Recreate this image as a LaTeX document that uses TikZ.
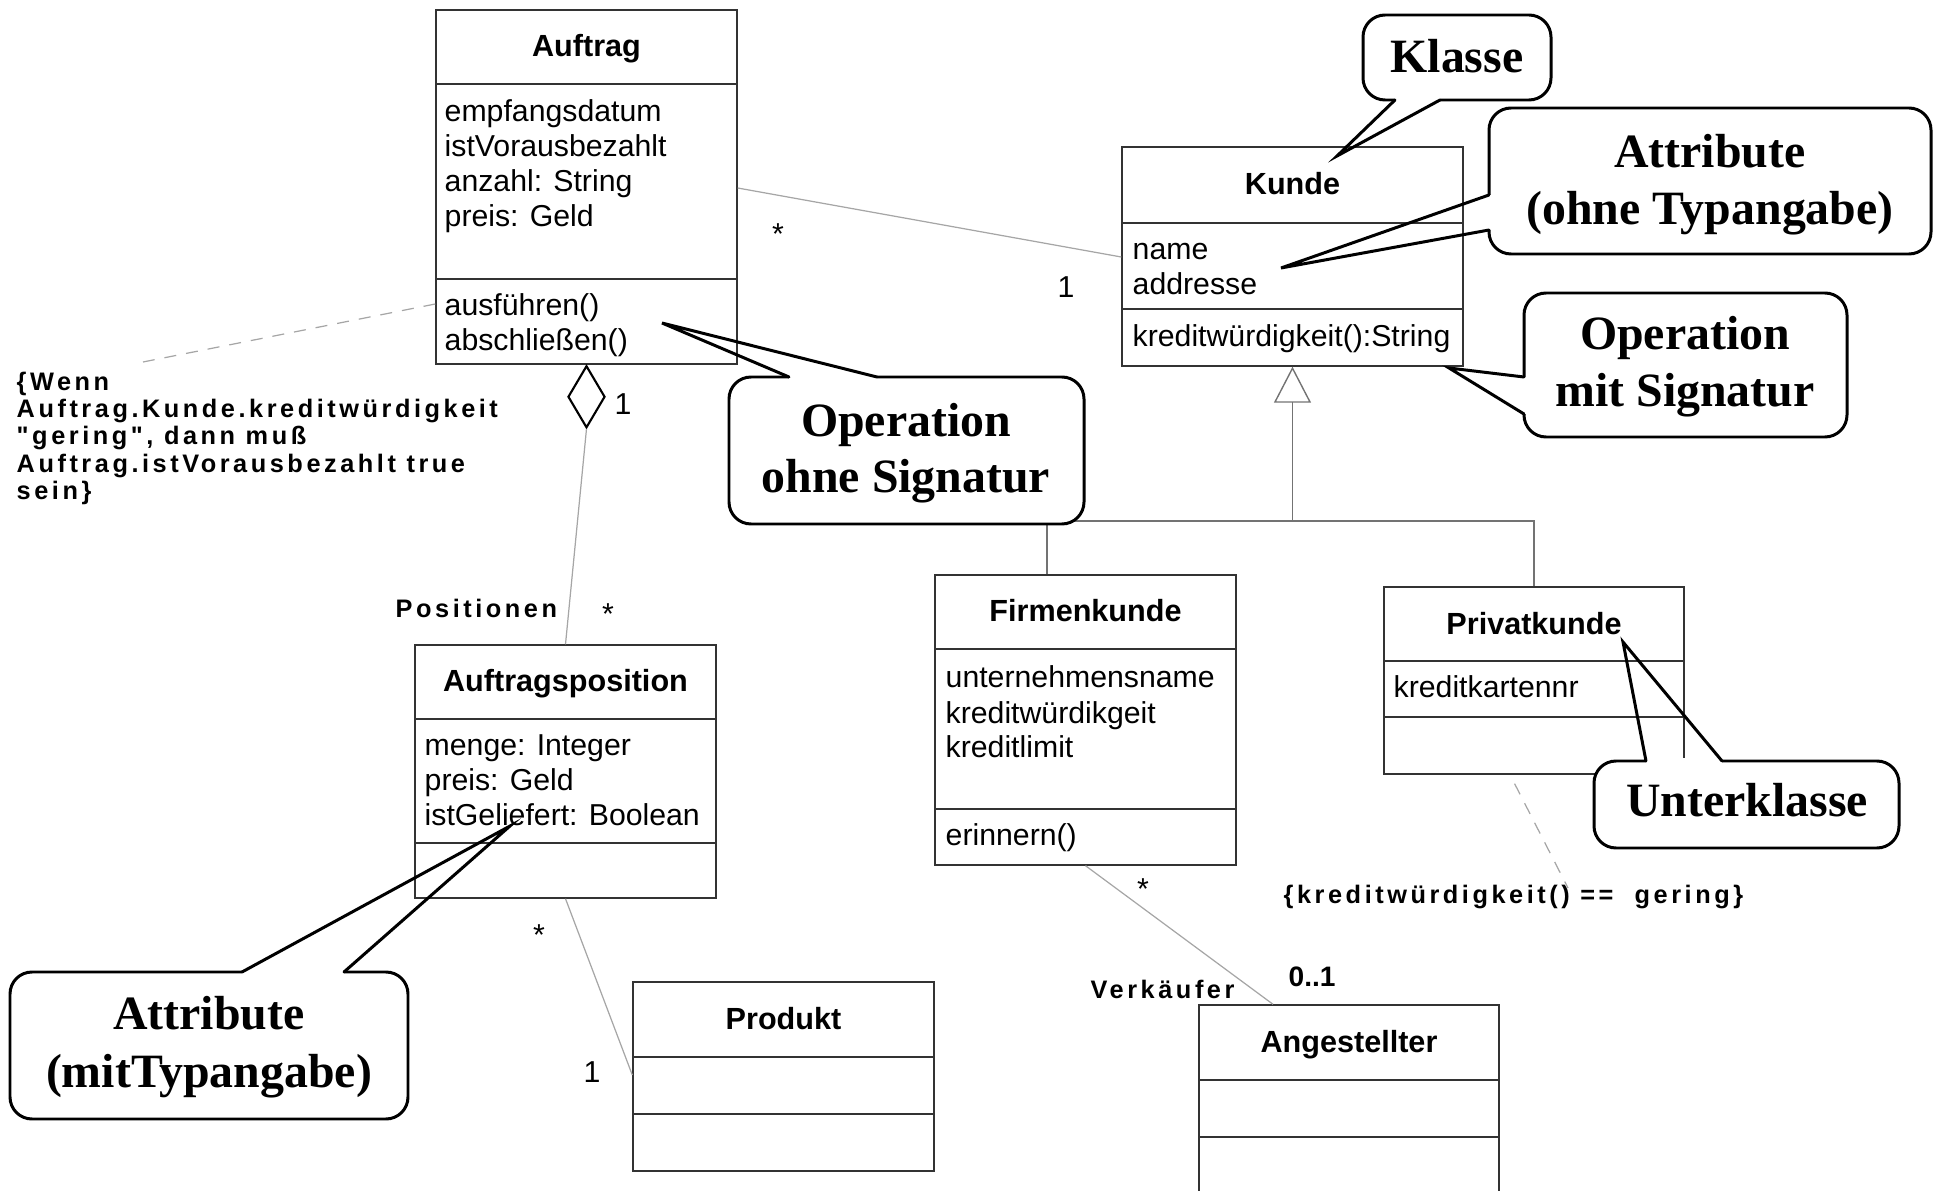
\documentclass[tikz,border=0pt]{standalone}
\usepackage{fontspec}
\setmainfont{Liberation Sans}
\newfontfamily\blasenfont{Liberation Serif}
\newfontfamily\gesperrt{Liberation Sans}[LetterSpace=14,Ligatures=TeXOff]
\usetikzlibrary{fit,arrows.meta,shapes.geometric}

% klasse: name, x1, y1, x2, y2, teiler 1, teiler 2, titel
\newcommand{\klasse}[8]{%
  \node[box, fit={(#2,#3) (#4,#5)}] (#1) {};
  \draw[box] (#2,#6) -- (#4,#6);
  \draw[box] (#2,#7) -- (#4,#7);
  \node[titel] (#1-titel) at ({(#2+#4)/2},{(#3+#6)/2+10}) {#8};
}
% zeilen: name, x, erste grundlinie, liste
\newcommand{\zeilen}[4]{%
  \foreach \txt [count=\i] in {#4} \node[zeile] (#1-\i) at (#2,{#3+35*(\i-1)}) {\txt};
}

\begin{document}
\begin{tikzpicture}[x=0.01cm, y=-0.01cm,
  box/.style={draw=black!80, line width=0.4pt, inner sep=0pt},
  titel/.style={anchor=base, inner sep=0pt, font={\fontsize{8.7}{10}\selectfont\bfseries}},
  zeile/.style={anchor=base west, inner sep=0pt, font={\fontsize{8.6}{10}\selectfont}},
  mult/.style={anchor=base, inner sep=0pt, font={\fontsize{8.6}{10}\selectfont}},
  klein/.style={anchor=base west, inner sep=0pt, font={\gesperrt\bfseries\fontsize{7.2}{8}\selectfont}},
  linie/.style={draw=black!35, line width=0.35pt},
  erbe/.style={draw=black!55, line width=0.4pt},
  notiz/.style={linie, dash pattern=on 0.12cm off 0.1cm},
  blase/.style={draw, fill=white, line width=0.85pt, rounded corners=0.22cm, inner sep=0pt},
  zeiger/.style={line width=0.85pt, line cap=round},
  luecke/.style={draw=white, line width=1.6pt},
  blasentext/.style={anchor=base, inner sep=0pt, font={\blasenfont\bfseries\fontsize{13.6}{16}\selectfont}}]
  \useasboundingbox (0,0) rectangle (1941,1191);
  \clip (0,0) rectangle (1941,1191);

  % klassen
  \klasse{auftrag}{436}{10}{737}{364}{84}{279}{Auftrag}
  \klasse{kunde}{1122}{147}{1463}{366}{223}{309}{Kunde}
  \klasse{firmenkunde}{935}{575}{1236}{865}{649}{809}{Firmenkunde}
  \klasse{privatkunde}{1384}{587}{1684}{774}{661}{717}{Privatkunde}
  \klasse{position}{415}{645}{716}{898}{719}{843}{Auftragsposition}
  \klasse{produkt}{633}{982}{934}{1171}{1057}{1114}{Produkt}
  \klasse{angestellter}{1199}{1005}{1499}{1230}{1080}{1137}{Angestellter}

  % attribute und operationen
  \zeilen{auftrag-attr}{444}{122}{empfangsdatum,istVorausbezahlt,anzahl: String,preis: Geld}
  \zeilen{auftrag-op}{444}{316}{ausführen(),abschließen()}
  \zeilen{kunde-attr}{1132}{260}{name,addresse}
  \zeilen{kunde-op}{1132}{347}{kreditwürdigkeit():String}
  \zeilen{firmenkunde-attr}{945}{688}{unternehmensname,kreditwürdikgeit,kreditlimit}
  \zeilen{firmenkunde-op}{945}{845}{erinnern()}
  \zeilen{privatkunde-attr}{1393}{697}{kreditkartennr}
  \zeilen{position-attr}{424}{755}{menge: Integer,preis: Geld,istGeliefert: Boolean}

  % assoziationen
  \draw[linie] (auftrag.east |- 0,188) -- (kunde.west |- 0,257);
  \node[mult] (m1) at (778,245) {*};
  \node[mult] (m2) at (1066,298) {1};

  \node[draw, diamond, line width=0.6pt, inner sep=0pt, minimum width=0.37cm,
        minimum height=0.62cm, anchor=north] (raute) at (auftrag.south) {};
  \draw[linie] (raute.south) -- (position.north);
  \node[mult] (m3) at (623,415) {1};
  \node[klein] (positionen) at (395,617) {Positionen};
  \node[mult] (m4) at (608,624) {*};

  \draw[linie] (position.south) -- (produkt.west |- 0,1075);
  \node[mult] (m5) at (539,945) {*};
  \node[mult] (m6) at (592,1082) {1};

  \draw[linie] (firmenkunde.south) -- (angestellter.north -| 1273,0);
  \node[mult] (m7) at (1143,899) {*};
  \node[klein] (verkaeufer) at (1090,998) {Verkäufer};
  \node[anchor=base west, inner sep=0pt, font={\fontsize{8}{9}\selectfont\bfseries}] (m8) at (1288,986) {0..1};

  % vererbung
  \coordinate (knick) at (kunde.south |- 0,521);
  \draw[erbe] (firmenkunde.north -| 1047,0) |- (knick);
  \draw[erbe] (privatkunde.north) |- (knick);
  \draw[erbe, -{Triangle[open, length=0.36cm, width=0.37cm]}] (knick) -- (kunde.south);

  % bedingungen
  \coordinate (notiz1) at (143,362);
  \draw[notiz] (auftrag.west |- 0,304) -- (notiz1);
  \foreach \txt [count=\i] in {\{Wenn, Auftrag.Kunde.kreditwürdigkeit, {"gering", dann muß},
      Auftrag.istVorausbezahlt true, sein\}}
    \node[klein] (wenn-\i) at (16,{391+27*(\i-1)}) {\txt};
  \coordinate (notiz2) at (1568,888);
  \draw[notiz, shorten <=0.1cm] (privatkunde.south -| 1510,0) -- (notiz2);
  \node[klein] (kredit) at (1283,903) {\{kreditwürdigkeit() ==\ \ gering\}};

  % blasen
  \node[blase, fit={(1363,15) (1551,100)}] (klasse-blase) {};
  \coordinate (klasse-spitze) at (1337,156);
  \draw[luecke] (1395,100) -- (1440,100);
  \draw[zeiger] (1395,100) -- (klasse-spitze) -- (1440,100);
  \node[blasentext] (klasse-t1) at (1457,73) {Klasse};

  \node[blase, fit={(1489,108) (1931,254)}] (ohnetyp-blase) {};
  \coordinate (ohnetyp-spitze) at (1281,268);
  \draw[luecke] (1489,195) -- (1489,230);
  \draw[zeiger] (1489,195) -- (ohnetyp-spitze) -- (1489,230);
  \node[blasentext] (ohnetyp-t1) at (1710,168) {Attribute};
  \node[blasentext] (ohnetyp-t2) at (1710,225) {(ohne Typangabe)};

  \node[blase, fit={(1524,293) (1847,437)}] (mitsig-blase) {};
  \coordinate (mitsig-spitze) at (1449,368);
  \draw[luecke] (1524,377) -- (1524,414);
  \draw[zeiger] (1524,377) -- (mitsig-spitze) -- (1524,414);
  \node[blasentext] (mitsig-t1) at (1685,350) {Operation};
  \node[blasentext] (mitsig-t2) at (1685,407) {mit Signatur};

  \node[blase, fit={(729,377) (1084,524)}] (ohnesig-blase) {};
  \coordinate (ohnesig-spitze) at (662,323);
  \draw[luecke] (789,377) -- (877,377);
  \draw[zeiger] (789,377) -- (ohnesig-spitze) -- (877,377);
  \node[blasentext] (ohnesig-t1) at (906,437) {Operation};
  \node[blasentext] (ohnesig-t2) at (906,493) {ohne Signatur};

  \node[blase, fit={(10,972) (408,1119)}] (mittyp-blase) {};
  \coordinate (mittyp-spitze) at (510,826);
  \draw[luecke] (242,972) -- (344,972);
  \draw[zeiger] (242,972) -- (mittyp-spitze) -- (344,972);
  \node[blasentext] (mittyp-t1) at (209,1029) {Attribute};
  \node[blasentext] (mittyp-t2) at (209,1087) {(mitTypangabe)};

  \node[blase, fit={(1594,761) (1899,848)}] (unter-blase) {};
  \coordinate (unter-spitze) at (1623,642);
  \draw[luecke] (1646,761) -- (1722,761);
  \draw[zeiger] (1646,761) -- (unter-spitze) -- (1722,761);
  \node[blasentext] (unter-t1) at (1747,817) {Unterklasse};
\end{tikzpicture}
\end{document}
